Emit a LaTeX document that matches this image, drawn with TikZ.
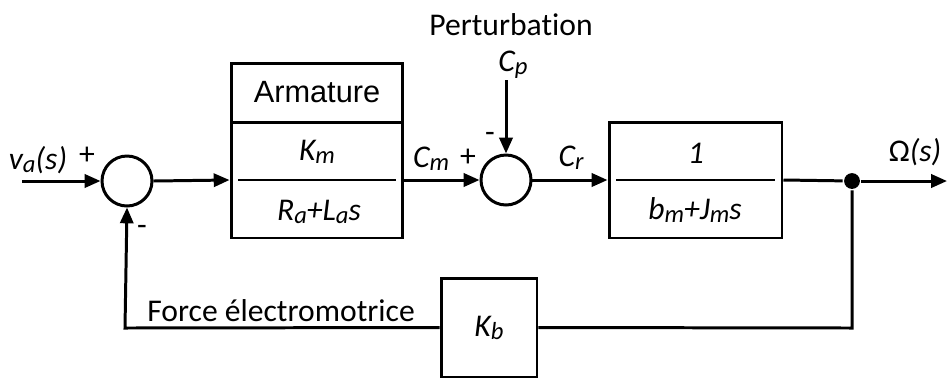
\documentclass[tikz,border=0pt]{standalone}
\usepackage{fontspec}
\setmainfont[Ligatures=NoCommon]{Carlito}
\newfontfamily\arialfont{Liberation Sans}
\usetikzlibrary{arrows.meta,positioning}
% small index letters, as in the picture
\newcommand{\lo}[1]{\raisebox{-0.2ex}{\fontsize{14}{16}\selectfont #1}}

\begin{document}
\begin{tikzpicture}[
    x=0.02cm, y=-0.02cm,
    every node/.style={font=\fontsize{18}{21}\selectfont},
    line width=1.7pt,
    sumnode/.style={circle, draw, minimum size=1cm, inner sep=0pt},
    blockbox/.style={draw, rectangle, inner sep=0pt},
    signal/.style={-{Triangle[length=9pt, width=7.5pt]}},
    sign/.style={inner sep=0pt},
  ]
  \useasboundingbox (0,0) rectangle (949,383);

  % Summing points
  \node[sumnode] (sumA) at (127,181) {};
  \node[sumnode] (sumB) at (506,180) {};

  % Armature block (title + transfer function)
  \node[blockbox, minimum width=3.44cm, minimum height=1.18cm] (armTitle) at (317,92.5)
    {\arialfont\fontsize{17.5}{20}\selectfont Armature};
  \node[blockbox, minimum width=3.44cm, minimum height=2.32cm] (armTF) at (317,180) {};
  \draw[line width=1.5pt] ([xshift=5pt]armTF.west) -- ([xshift=-5pt]armTF.east);
  \node (armNum) at (317,152) {\itshape K\lo{m}};
  \node (armDen) at (319,212) {\itshape R\lo{a}+L\lo{a}s};

  % Mechanical block
  \node[blockbox, minimum width=3.46cm, minimum height=2.32cm] (mech) at (695.5,180) {};
  \draw[line width=1.5pt] ([xshift=5pt]mech.west) -- ([xshift=-5pt]mech.east);
  \node (mechNum) at (696,153) {\itshape 1};
  \node (mechDen) at (695,210) {\itshape b\lo{m}+J\lo{m}s};

  % Back-emf block
  \node[blockbox, minimum width=1.92cm, minimum height=1.98cm] (kb) at (489,327.5)
    {\itshape K\lo{b}};

  % Input, output and branch points
  \coordinate (inp) at (22,181);
  \coordinate (out) at (947,181);
  \coordinate (cpTop) at (506,80);
  \node[circle, fill, inner sep=0pt, minimum size=9pt] (branch) at (852,181) {};
  \coordinate (fbRight) at (852,328);
  \coordinate (fbLeft) at (125,328);

  % Forward path
  \draw[signal] (inp) -- (sumA.west);
  \draw[signal] (sumA.east) -- (armTF.west);
  \draw[signal] (armTF.east |- sumB.west) -- (sumB.west);
  \draw[signal] (sumB.east) -- (mech.west |- sumB.east);
  \draw (mech.east) -- (branch);
  \draw[signal] (branch) -- (out);
  \draw[signal] (cpTop) -- (sumB.north);

  % Feedback path
  \draw (branch) -- (fbRight) -- (kb.east);
  \draw[signal] (kb.west) -- (fbLeft) -- (sumA.south);

  % Labels
  \node (va) at (38,160) {\itshape v\lo{a}(s)};
  \node[sign] at (87,156) {+};
  \node[sign] at (142,230) {-};
  \node (cm) at (431,159) {\itshape C\lo{m}};
  \node[sign] at (468,158) {+};
  \node[sign] at (490,137) {-};
  \node (cp) at (513,65) {\itshape C\lo{p}};
  \node (perturb) at (511,25) {Perturbation};
  \node (cr) at (571,158) {\itshape C\lo{r}};
  \node (omega) at (915,152) {Ω\itshape(s)};
  \node (emf) at (281,311) {Force électromotrice};
\end{tikzpicture}
\end{document}
